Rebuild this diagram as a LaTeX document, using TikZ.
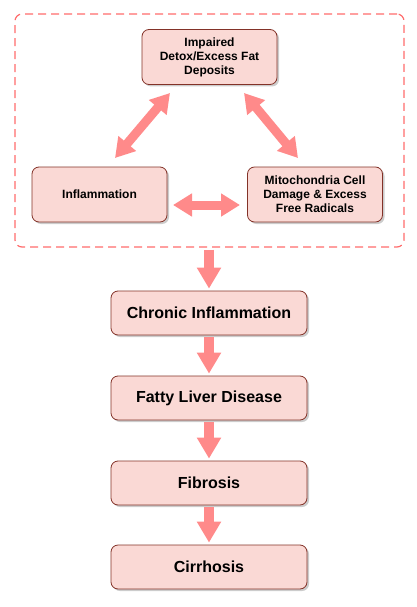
\documentclass[tikz,border=0pt]{standalone}
\usepackage{fontspec}
\setmainfont{Liberation Sans}
\usetikzlibrary{arrows.meta,shadows}
\definecolor{boxfill}{HTML}{FAD9D5}
\definecolor{boxdraw}{HTML}{833228}
\definecolor{arrowc}{HTML}{FF8A8A}
\definecolor{dashc}{HTML}{FF6B6B}
\tikzset{
  stagebox/.style={draw=boxdraw, fill=boxfill, rounded corners=7pt, line width=0.8pt,
    align=center, font=\bfseries\fontsize{12}{14}\selectfont,
    drop shadow={shadow xshift=2pt, shadow yshift=-2pt, fill=black!40, opacity=0.5}},
  bigbox/.style={stagebox, font=\bfseries\fontsize{16}{19}\selectfont,
    minimum width=196pt, minimum height=44pt},
  smallbox/.style={stagebox, minimum width=135pt, minimum height=55pt},
  fatarrow/.style={draw=arrowc, line width=10pt,
    -{Triangle[length=21pt,width=23pt,fill=arrowc]}},
  dblarrow/.style={draw=arrowc, line width=9pt,
    {Triangle[length=19pt,width=22pt,fill=arrowc]}-{Triangle[length=19pt,width=22pt,fill=arrowc]}},
  container/.style={draw=dashc, dash pattern=on 8pt off 5pt, line width=1.2pt,
    rounded corners=7pt, minimum width=389pt, minimum height=233pt}
}
\begin{document}
\begin{tikzpicture}[x=1pt,y=-1pt]
\useasboundingbox (0,0) rectangle (417,607);
\node[container] (grp) at (209.5,130.5) {};
\node[smallbox] (detox) at (209.5,57) {Impaired\\Detox/Excess Fat\\Deposits};
\node[smallbox] (infl) at (99.5,194.5) {Inflammation};
\node[smallbox] (mito) at (315,194.5) {Mitochondria Cell\\Damage \& Excess\\Free Radicals};
\node[bigbox] (chronic) at (209,313) {Chronic Inflammation};
\node[bigbox] (fatty) at (209,398) {Fatty Liver Disease};
\node[bigbox] (fib) at (209,483) {Fibrosis};
\node[bigbox] (cirr) at (209,567) {Cirrhosis};
\coordinate (l1) at (115,158);
\coordinate (l2) at (170,93);
\coordinate (r1) at (244,93);
\coordinate (r2) at (298,158);
\coordinate (h1) at (173,205);
\coordinate (h2) at (240,205);
\draw[dblarrow] (l1) -- (l2);
\draw[dblarrow] (r1) -- (r2);
\draw[dblarrow] (h1) -- (h2);
\draw[fatarrow] ([yshift=-2pt]grp.south -| chronic.north) -- ([yshift=2pt]chronic.north);
\draw[fatarrow] ([yshift=-2pt]chronic.south) -- ([yshift=2pt]fatty.north);
\draw[fatarrow] ([yshift=-2pt]fatty.south) -- ([yshift=2pt]fib.north);
\draw[fatarrow] ([yshift=-2pt]fib.south) -- ([yshift=2pt]cirr.north);
\end{tikzpicture}
\end{document}
